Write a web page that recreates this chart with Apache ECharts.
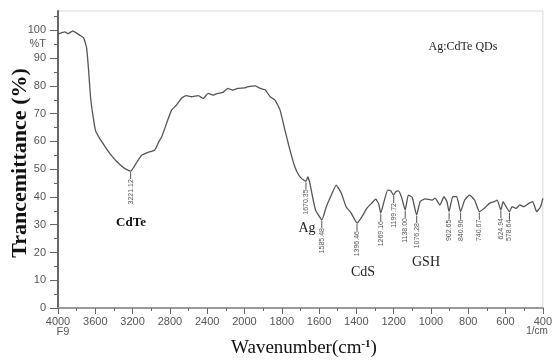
<!DOCTYPE html>
<html>
<head>
<meta charset="utf-8">
<script src="https://cdn.jsdelivr.net/npm/echarts@6/dist/echarts.min.js"></script>
<style>
  html, body { margin: 0; padding: 0; background: #fff; }
  #chart { width: 555px; height: 360px; }
</style>
</head>
<body>
<div id="chart"></div>
<script>
// spectrum: wavenumber (1/cm) and %T
var wavenumbers = [4000, 3926, 3894, 3841, 3809, 3767, 3725, 3693, 3672, 3651, 3629, 3598, 3555, 3492, 3428, 3365, 3290, 3221, 3153, 3100, 3026, 2962, 2920, 2888, 2835, 2782, 2729, 2676, 2623, 2570, 2496, 2443, 2390, 2337, 2284, 2231, 2178, 2126, 2073, 2000,
  1984, 1942, 1915, 1889, 1862, 1836, 1809, 1783, 1756, 1730, 1709, 1693, 1682, 1670, 1661, 1651, 1635, 1619, 1598, 1585, 1561, 1534, 1508, 1481, 1455, 1428, 1396, 1370, 1343, 1317, 1296, 1280, 1269, 1253, 1232, 1216, 1200, 1190, 1174, 1158, 1138, 1121, 1100, 1077, 1058, 1031, 994, 978, 952, 930, 914, 903, 883, 862, 841, 819, 793, 766, 740, 714, 687, 661, 645, 625, 613, 597, 579, 565, 544, 523, 502, 475, 454, 433, 412, 400];
var transmittance = [98.7, 99.5, 98.8, 99.8, 99.2, 98.3, 97.3, 93.7, 85.7, 76, 70.2, 64, 61.2, 58, 55, 52.6, 50.4, 49.3, 52.6, 55.1, 56.2, 56.9, 59.8, 61.6, 66.6, 71.3, 73.1, 75.6, 76.5, 76.1, 76.5, 75.5, 77.3, 76.7, 77.3, 77.7, 79.1, 78.5, 79.1, 79.3,
  79.7, 80, 79.1, 78.6, 76.1, 74.9, 71.3, 64.1, 56.9, 50.9, 47.9, 46.6, 46.1, 45.6, 47.2, 45.5, 40.1, 35.3, 32.9, 31.7, 36.5, 40.7, 44.3, 41.4, 36.5, 34.2, 30.6, 32.9, 36, 37.8, 39.2, 37.5, 34.2, 38, 42.5, 42.2, 40.7, 41.8, 42.2, 40, 35.3, 40.7, 39.8, 33.5, 38.3, 39.3, 38.9, 39.6, 37.1, 40.1, 38.3, 34.7, 40.1, 40.1, 34.7, 38.9, 40.7, 38.9, 34.7, 35.9, 37.7, 38.3, 38.9, 35.3, 38.3, 36.5, 34.7, 36.5, 35.9, 37.1, 36.5, 37.7, 38.3, 34.7, 36.5, 39.5];

// labelled peaks
var peakWn = [3221.12, 1670.35, 1585.48, 1396.46, 1269.16, 1199.72, 1138.00, 1076.28, 902.65, 840.96, 740.67, 624.94, 578.64];
var peakT = [49.3, 45.6, 31.7, 30.6, 34.2, 40.7, 35.3, 33.5, 34.7, 34.7, 34.7, 35.3, 34.7];

var yMajor = [0, 10, 20, 30, 40, 50, 60, 70, 80, 90, 100];
var yMinor = [5, 15, 25, 35, 45, 55, 65, 75, 85, 95, 105];

// the instrument halves the scale above 2000 1/cm
function toAxis(w) { return w > 2000 ? 2000 + (w - 2000) / 2 : w; }
function fromAxis(u) { return u > 2000 ? 2000 + (u - 2000) * 2 : u; }

var serif = '"Liberation Serif", "Times New Roman", serif';
var sans = '"Liberation Sans", Arial, sans-serif';

var chart = echarts.init(document.getElementById('chart'));

var option = {
  animation: false,
  grid: { left: 58, right: 6, top: 11, bottom: 52, show: true, borderColor: '#d8d8d8', borderWidth: 1 },
  xAxis: [{
    type: 'value', min: 400, max: 3000, interval: 200, inverse: true,
    axisLine: { show: true, lineStyle: { color: '#cfcfcf', width: 1 } },
    axisTick: { show: true, length: 6, lineStyle: { color: '#666' } },
    minorTick: { show: true, splitNumber: 2, length: 3, lineStyle: { color: '#666' } },
    splitLine: { show: false },
    axisLabel: { color: '#555', fontSize: 11, fontFamily: sans, margin: 8, showMinLabel: true, showMaxLabel: true,
      formatter: function (u) { return String(fromAxis(u)); } }
  }, {
    type: 'value', min: 400, max: 3000, inverse: true, position: 'top',
    axisLine: { show: true, lineStyle: { color: '#9a9a9a', width: 2 } },
    axisTick: { show: false }, axisLabel: { show: false }, splitLine: { show: false }
  }],
  yAxis: [{
    type: 'value', min: 0, max: 107,
    axisLine: { show: true, lineStyle: { color: '#666', width: 2 } },
    axisTick: { show: true, length: 8, customValues: yMajor, lineStyle: { color: '#666' } },
    splitLine: { show: false },
    axisLabel: { color: '#555', fontSize: 11, fontFamily: sans, margin: 12,
      customValues: yMajor.concat([95]),
      formatter: function (v) { return v === 95 ? '%T' : String(v); } }
  }, {
    type: 'value', min: 0, max: 107, position: 'left',
    axisLine: { show: false },
    axisTick: { show: true, length: 4, customValues: yMinor, lineStyle: { color: '#666' } },
    axisLabel: { show: false }, splitLine: { show: false }
  }],
  series: [{
    type: 'line',
    data: wavenumbers.map(function (w, i) { return [toAxis(w), transmittance[i]]; }),
    showSymbol: false,
    smooth: 0.15,
    lineStyle: { color: '#555', width: 1.3 }
  }, {
    type: 'custom',
    data: peakWn.map(function (w, i) { return [toAxis(w), peakT[i], w]; }),
    renderItem: function (params, api) {
      var p = api.coord([api.value(0), api.value(1)]);
      return {
        type: 'group',
        children: [{
          type: 'line',
          shape: { x1: p[0], y1: p[1] + 1, x2: p[0], y2: p[1] + 8 },
          style: { stroke: '#555', lineWidth: 1 }
        }, {
          type: 'text',
          x: p[0], y: p[1] + 8, rotation: Math.PI / 2,
          style: { text: api.value(2).toFixed(2), align: 'right', verticalAlign: 'middle',
            font: '7px ' + sans, fill: '#555' }
        }]
      };
    }
  }],
  graphic: [
    { type: 'text', x: 20, y: 163, rotation: Math.PI / 2,
      style: { text: 'Trancemittance (%)', align: 'center', verticalAlign: 'middle', font: 'bold 22px ' + serif, fill: '#111' } },
    { type: 'text', x: 304, y: 348,
      style: { text: '{a|Wavenumber(cm}{s|-1}{a|)}', align: 'center', verticalAlign: 'middle',
        rich: { a: { font: '19px ' + serif, fill: '#111' }, s: { font: 'bold 11px ' + serif, fill: '#111', verticalAlign: 'top', padding: [0, 0, 8, 0] } } } },
    { type: 'text', x: 463, y: 47, style: { text: 'Ag:CdTe QDs', align: 'center', verticalAlign: 'middle', font: '12px ' + serif, fill: '#222' } },
    { type: 'text', x: 131, y: 223, style: { text: 'CdTe', align: 'center', verticalAlign: 'middle', font: 'bold 13px ' + serif, fill: '#111' } },
    { type: 'text', x: 307, y: 228, style: { text: 'Ag', align: 'center', verticalAlign: 'middle', font: '14px ' + serif, fill: '#222' } },
    { type: 'text', x: 363, y: 272, style: { text: 'CdS', align: 'center', verticalAlign: 'middle', font: '14px ' + serif, fill: '#222' } },
    { type: 'text', x: 426, y: 262, style: { text: 'GSH', align: 'center', verticalAlign: 'middle', font: '14px ' + serif, fill: '#222' } },
    { type: 'text', x: 63, y: 332, style: { text: 'F9', align: 'center', verticalAlign: 'middle', font: '11px ' + sans, fill: '#555' } },
    { type: 'text', x: 537, y: 331, style: { text: '1/cm', align: 'center', verticalAlign: 'middle', font: '10px ' + sans, fill: '#555' } }
  ]
};

chart.setOption(option);
</script>
</body>
</html>
